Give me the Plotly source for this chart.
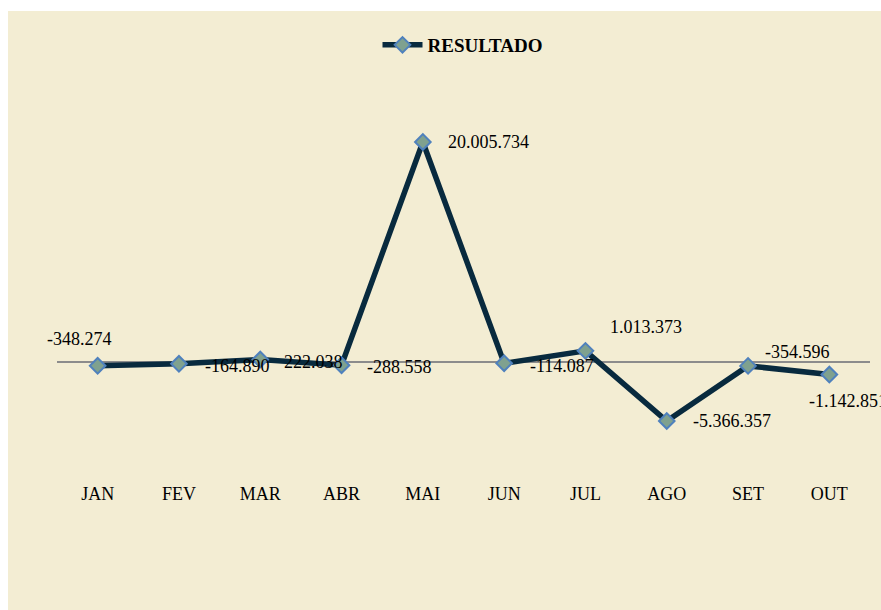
import plotly.graph_objects as go

meses = ["JAN", "FEV", "MAR", "ABR", "MAI", "JUN", "JUL", "AGO", "SET", "OUT"]
resultado = [-348274, -164890, 222038, -288558, 20005734, -114087, 1013373, -5366357, -354596, -1142851]
serie_nome = "RESULTADO"

# label offsets (style): (xshift px, yshift px, xanchor)
label_offsets = [
    (-18, 27, "center"), (24, -2, "left"), (22, -2, "left"), (23, -2, "left"),
    (23, 0, "left"), (24, -3, "left"), (23, 24, "left"), (24, 0, "left"),
    (15, 14, "left"), (-22, -26, "left"),
]

def fmt(v):
    return f"{v:,}".replace(",", ".")

FONT = "Liberation Serif"
BG = "#F3EDD3"

fig = go.Figure()
fig.add_trace(go.Scatter(
    x=meses, y=resultado, mode="lines+markers", name=f"<b>{serie_nome}</b>",
    line=dict(color="#082A3E", width=5.5),
    marker=dict(symbol="diamond", size=12, color="#7FA18F",
                line=dict(color="#4F81BD", width=2)),
))

for m, v, (dx, dy, xa) in zip(meses, resultado, label_offsets):
    fig.add_annotation(x=m, y=v, text=fmt(v), showarrow=False,
                       xanchor=xa, yanchor="middle", xshift=dx, yshift=dy,
                       font=dict(family=FONT, size=18, color="#000000"))

W, H = 881, 610
L, R, T, B = 57, 11, 87, 138
pw, ph = W - L - R, H - T - B
fig.add_shape(type="rect", xref="paper", yref="paper", layer="below",
              x0=(8 - L) / pw, x1=(W - L) / pw + 0.01,
              y0=-B / ph - 0.01, y1=(H - B - 11) / ph,
              fillcolor=BG, line=dict(width=0))

fig.update_layout(
    width=W, height=H,
    margin=dict(l=L, r=R, t=T, b=B),
    paper_bgcolor="#FFFFFF", plot_bgcolor=BG,
    font=dict(family=FONT, size=18, color="#000000"),
    showlegend=True,
    legend=dict(orientation="h", x=(463 - L) / pw, xanchor="center",
                y=(H - B - 45) / ph, yanchor="middle",
                bgcolor="rgba(0,0,0,0)", font=dict(family=FONT, size=19),
                itemwidth=40),
    xaxis=dict(range=[-0.5, 9.5], showgrid=False, zeroline=False, showline=False,
               ticks="outside", ticklen=5, tickcolor="rgba(0,0,0,0)",
               tickfont=dict(family=FONT, size=18)),
    yaxis=dict(range=[-10e6, 25e6], showgrid=False, showticklabels=False,
               zeroline=True, zerolinecolor="#8C8C8C", zerolinewidth=1.5,
               showline=False),
)

fig.write_html("out.html",
               config={"displayModeBar": False},
               post_script="document.body.style.margin='0';"
                           "document.documentElement.style.overflow='hidden';"
                           "document.body.style.overflow='hidden';")
